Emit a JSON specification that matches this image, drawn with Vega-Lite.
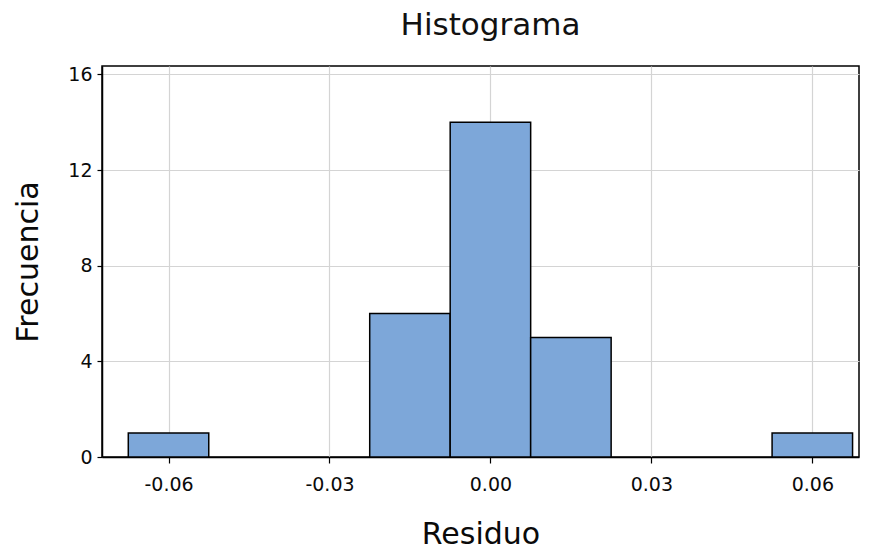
{
  "$schema": "https://vega.github.io/schema/vega-lite/v6.json",
  "width": 757,
  "height": 391,
  "autosize": {"type": "none"},
  "padding": {"left": 102, "top": 66, "right": 14, "bottom": 96},
  "background": "white",
  "title": {
    "text": "Histograma",
    "font": "DejaVu Sans",
    "fontSize": 31,
    "fontWeight": "normal",
    "color": "#111111",
    "offset": 23,
    "dx": 10,
    "anchor": "middle"
  },
  "data": {
    "values": [
      {"inicio": -0.0675, "fin": -0.0525, "frecuencia": 1},
      {"inicio": -0.0525, "fin": -0.0375, "frecuencia": 0},
      {"inicio": -0.0375, "fin": -0.0225, "frecuencia": 0},
      {"inicio": -0.0225, "fin": -0.0075, "frecuencia": 6},
      {"inicio": -0.0075, "fin": 0.0075, "frecuencia": 14},
      {"inicio": 0.0075, "fin": 0.0225, "frecuencia": 5},
      {"inicio": 0.0225, "fin": 0.0375, "frecuencia": 0},
      {"inicio": 0.0375, "fin": 0.0525, "frecuencia": 0},
      {"inicio": 0.0525, "fin": 0.0675, "frecuencia": 1}
    ]
  },
  "transform": [{"filter": "datum.frecuencia > 0"}],
  "mark": {"type": "rect", "fill": "#7DA7D9", "stroke": "#000000", "strokeWidth": 1.5},
  "encoding": {
    "x": {
      "field": "inicio",
      "type": "quantitative",
      "scale": {"domain": [-0.0724, 0.0687], "nice": false, "zero": false},
      "axis": {
        "title": "Residuo",
        "values": [-0.06, -0.03, 0, 0.03, 0.06],
        "labelExpr": "replace(format(datum.value, '.2f'), '\u2212', '-')",
        "labelFont": "DejaVu Sans",
        "labelFontSize": 19,
        "labelColor": "#0a0a0a",
        "labelPadding": 12,
        "titleFont": "DejaVu Sans",
        "titleFontSize": 30,
        "titleFontWeight": "normal",
        "titleColor": "#0a0a0a",
        "titlePadding": 25,
        "domainColor": "#000000",
        "domainWidth": 1.5,
        "tickColor": "#000000",
        "tickSize": 6,
        "tickWidth": 1.2,
        "gridColor": "#d4d4d4",
        "gridWidth": 1.2
      }
    },
    "x2": {"field": "fin"},
    "y": {
      "field": "frecuencia",
      "type": "quantitative",
      "scale": {"domain": [0, 16.35], "nice": false},
      "axis": {
        "title": "Frecuencia",
        "values": [0, 4, 8, 12, 16],
        "labelFont": "DejaVu Sans",
        "labelFontSize": 19,
        "labelColor": "#0a0a0a",
        "labelPadding": 5,
        "titleFont": "DejaVu Sans",
        "titleFontSize": 30,
        "titleFontWeight": "normal",
        "titleColor": "#0a0a0a",
        "titlePadding": 24,
        "domainColor": "#000000",
        "domainWidth": 1.5,
        "tickColor": "#000000",
        "tickSize": 5,
        "tickWidth": 1.2,
        "gridColor": "#d4d4d4",
        "gridWidth": 1.2
      }
    },
    "y2": {"datum": 0}
  },
  "config": {
    "view": {"stroke": "#000000", "strokeWidth": 1.5}
  }
}
